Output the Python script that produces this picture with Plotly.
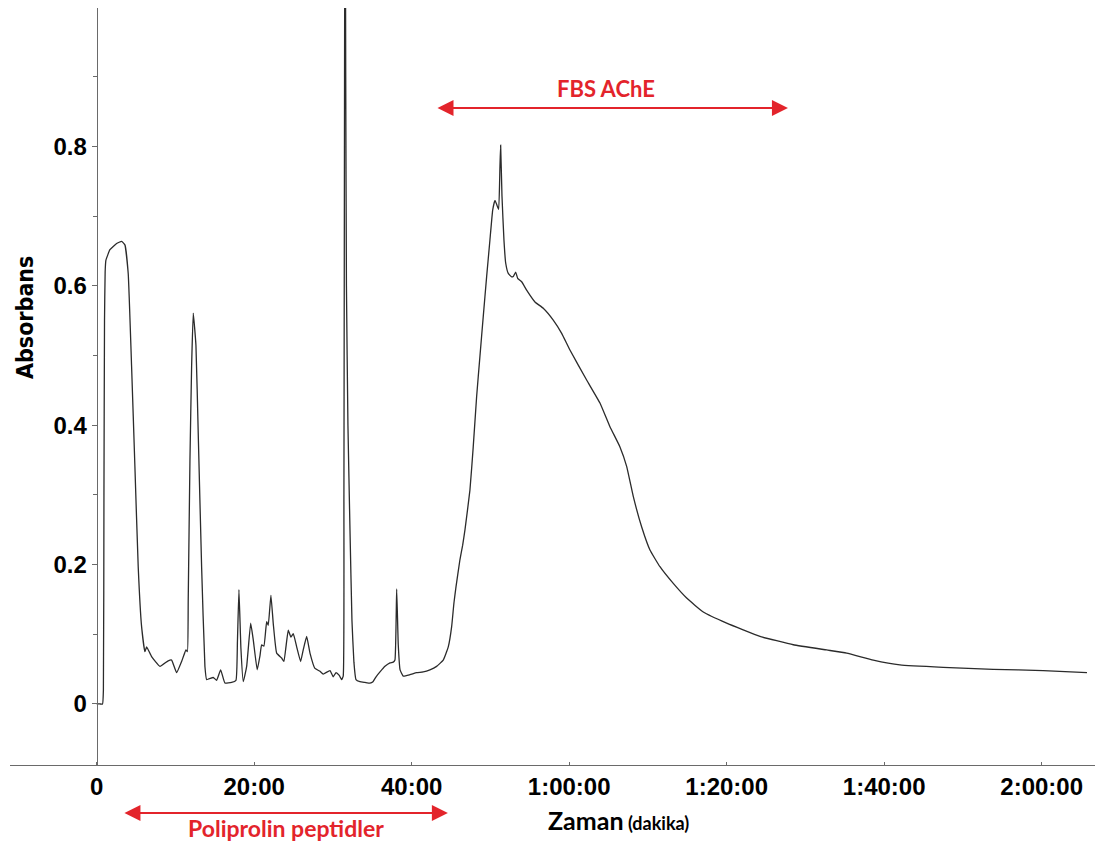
import plotly.graph_objects as go

# Chromatogram trace: retention time (minutes) vs absorbance
time_min = [
    0.0, 0.4, 0.75, 0.86, 0.93, 1.0, 1.08, 1.18, 1.69, 2.54, 3.17, 3.59, 4.01,
    4.44, 4.86, 5.28,
    5.71, 6.13, 6.35, 6.98, 8.04, 9.09, 9.52, 10.16, 10.79, 11.34, 11.53, 11.63,
    11.85, 12.06, 12.27, 12.61, 12.90, 13.33, 13.75, 13.97, 14.8, 15.24, 15.75,
    16.29, 17.14, 17.69, 17.88, 18.07, 18.32, 18.62, 19.05, 19.56, 19.89, 20.39,
    20.74, 20.95, 21.24, 21.59, 21.79, 22.13, 22.43, 22.86, 23.49, 23.78, 24.33,
    24.67, 24.97, 25.40, 25.90, 26.24, 26.67, 27.09, 27.72, 28.36, 28.77, 29.63,
    30.04, 30.39, 30.81, 31.11, 31.31, 31.40, 31.48, 31.55, 31.63, 31.72, 31.91,
    32.17, 32.42, 32.67, 32.93, 33.43, 34.07, 34.71, 35.09, 35.48, 35.98, 36.61,
    37.25, 37.66, 37.88, 38.10, 38.30, 38.53, 38.93, 39.78, 40.63, 41.47, 42.32,
    43.17, 44.01, 44.65, 45.08, 45.37, 45.63, 46.13, 46.48, 46.77, 47.40, 47.82,
    48.25, 48.67, 49.09, 49.52, 49.94, 50.29, 50.58, 50.83, 51.05, 51.21, 51.30,
    51.47, 51.72, 51.94, 52.27, 52.70, 52.93, 53.21, 53.46, 53.97, 54.60, 55.66,
    56.71, 57.98, 59.05, 60.10, 62.22, 63.91, 65.18, 66.45, 67.30,
    68.14, 69.21, 70.26, 71.53, 73.22, 74.92, 77.03, 80.0, 84.23, 88.46, 92.70,
    95.24, 98.62, 102.0, 107.5, 113.85, 120.2, 125.75,
]
absorbance = [
    0.0, 0.0, 0.0, 0.02, 0.30, 0.55, 0.62, 0.637, 0.652, 0.661, 0.664, 0.659,
    0.618, 0.484, 0.341,
    0.197, 0.111, 0.075, 0.082, 0.068, 0.054, 0.062, 0.063, 0.045, 0.061, 0.0775,
    0.075, 0.149, 0.35, 0.484, 0.561, 0.515, 0.389, 0.197, 0.054, 0.035, 0.038,
    0.034, 0.049, 0.030, 0.031, 0.034, 0.09, 0.164, 0.08, 0.032, 0.054, 0.116,
    0.092, 0.049, 0.069, 0.085, 0.083, 0.118, 0.113, 0.156, 0.115, 0.073, 0.066,
    0.061, 0.106, 0.096, 0.101, 0.082, 0.061, 0.078, 0.097, 0.073, 0.051, 0.047,
    0.043, 0.048, 0.039, 0.045, 0.041, 0.035, 0.040, 0.3, 0.9, 1.3, 0.9, 0.6,
    0.4, 0.25, 0.12, 0.06, 0.035, 0.032, 0.031, 0.030, 0.032, 0.039, 0.046,
    0.054, 0.059, 0.060, 0.063, 0.165, 0.085, 0.049, 0.040, 0.042, 0.045, 0.046,
    0.049, 0.054, 0.063, 0.082, 0.111, 0.145, 0.168, 0.207, 0.228, 0.25, 0.307,
    0.369, 0.441, 0.499, 0.556, 0.613, 0.666, 0.709, 0.723, 0.716, 0.710, 0.77,
    0.802, 0.729, 0.666, 0.633, 0.618, 0.613, 0.614, 0.620, 0.611, 0.606, 0.594,
    0.577, 0.568, 0.551, 0.532, 0.508, 0.465, 0.432, 0.398, 0.369, 0.341,
    0.298, 0.254, 0.221, 0.197, 0.173, 0.152, 0.132, 0.116, 0.097, 0.085,
    0.0775, 0.073, 0.063, 0.056, 0.0525, 0.0497, 0.048, 0.045,
]

x_tick_vals = [0, 20, 40, 60, 80, 100, 120]
x_tick_text = ["0", "20:00", "40:00", "1:00:00", "1:20:00", "1:40:00", "2:00:00"]
y_tick_vals = [0, 0.2, 0.4, 0.6, 0.8]
y_tick_text = ["0", "0.2", "0.4", "0.6", "0.8"]

# Fraction windows (minutes)
peptide_window = [3.34, 44.6]
ache_window = [43.09, 87.78]

RED = "#e3242b"
AXIS_GREY = "#6a6a6a"
W, H = 1095, 841
M_L, M_R, M_T, M_B = 10, 0, 8, 76
X_RANGE = [-11.0, 126.77]

fig = go.Figure()
fig.add_trace(go.Scatter(
    x=time_min, y=absorbance, mode="lines",
    line=dict(color="#2b2b2b", width=1.3, shape="spline", smoothing=0.35),
    hoverinfo="skip", showlegend=False,
))

plot_w = W - M_L - M_R
plot_h = H - M_T - M_B
y_axis_pos = (0 - X_RANGE[0]) / (X_RANGE[1] - X_RANGE[0])

fig.update_layout(
    width=W, height=H,
    margin=dict(l=M_L, r=M_R, t=M_T, b=M_B),
    paper_bgcolor="white", plot_bgcolor="white",
    showlegend=False,
    xaxis=dict(
        range=X_RANGE, tickvals=x_tick_vals, ticktext=x_tick_text,
        showgrid=False, zeroline=False,
        showline=True, linecolor=AXIS_GREY, linewidth=1,
        ticks="inside", ticklen=3, tickcolor=AXIS_GREY,
        tickfont=dict(family="Liberation Sans, Arial, sans-serif", size=24,
                      color="black", weight="bold"),
    ),
    yaxis=dict(
        range=[-0.0876, 0.999], tickvals=y_tick_vals, ticktext=y_tick_text,
        anchor="free", position=y_axis_pos,
        showgrid=False, zeroline=False,
        showline=True, linecolor=AXIS_GREY, linewidth=1,
        ticks="outside", ticklen=5, tickcolor=AXIS_GREY,
        minor=dict(dtick=0.1, tick0=0, ticks="outside", ticklen=4,
                   tickcolor=AXIS_GREY),
        tickfont=dict(family="Liberation Sans, Arial, sans-serif", size=24,
                      color="black", weight="bold"),
    ),
)


def domain_y(py):
    """Vertical pixel position -> fraction of the plot height."""
    return (H - M_B - py) / plot_h


# Axis titles
fig.add_annotation(
    text="Absorbans", textangle=-90, showarrow=False,
    xref="paper", yref="paper",
    x=(25 - M_L) / plot_w, y=domain_y(318),
    xanchor="center", yanchor="middle",
    font=dict(family="DejaVu Sans Condensed, Arial Narrow, sans-serif",
              size=23, color="black", weight="bold"),
)
fig.add_annotation(
    text="<b>Zaman</b><span style='font-size:18px'><b> (dakika)</b></span>",
    showarrow=False, xref="x", yref="paper",
    x=57.1, y=domain_y(820), xanchor="left", yanchor="middle",
    font=dict(family="Lato, Open Sans, sans-serif", size=25, color="black"),
)

# Fraction arrows and labels
for (x0, x1), py in [(ache_window, 108), (peptide_window, 813)]:
    fig.add_annotation(
        x=x1, y=domain_y(py), ax=x0, ay=domain_y(py),
        xref="x", yref="y domain", axref="x", ayref="y domain",
        text="", showarrow=True, arrowside="end+start",
        arrowhead=2, arrowsize=1.6, arrowwidth=2, arrowcolor=RED,
        standoff=0, startstandoff=0,
    )

fig.add_annotation(
    text="<b>FBS AChE</b>", showarrow=False, xref="x", yref="paper",
    x=64.7, y=domain_y(88), xanchor="center", yanchor="middle",
    font=dict(family="Lato, Open Sans, sans-serif", size=22, color=RED),
)
fig.add_annotation(
    text="<b>Poliprolin peptidler</b>", showarrow=False, xref="x", yref="paper",
    x=24.0, y=domain_y(828), xanchor="center", yanchor="middle",
    font=dict(family="Lato, Open Sans, sans-serif", size=23, color=RED),
)

fig.write_html("out.html")
